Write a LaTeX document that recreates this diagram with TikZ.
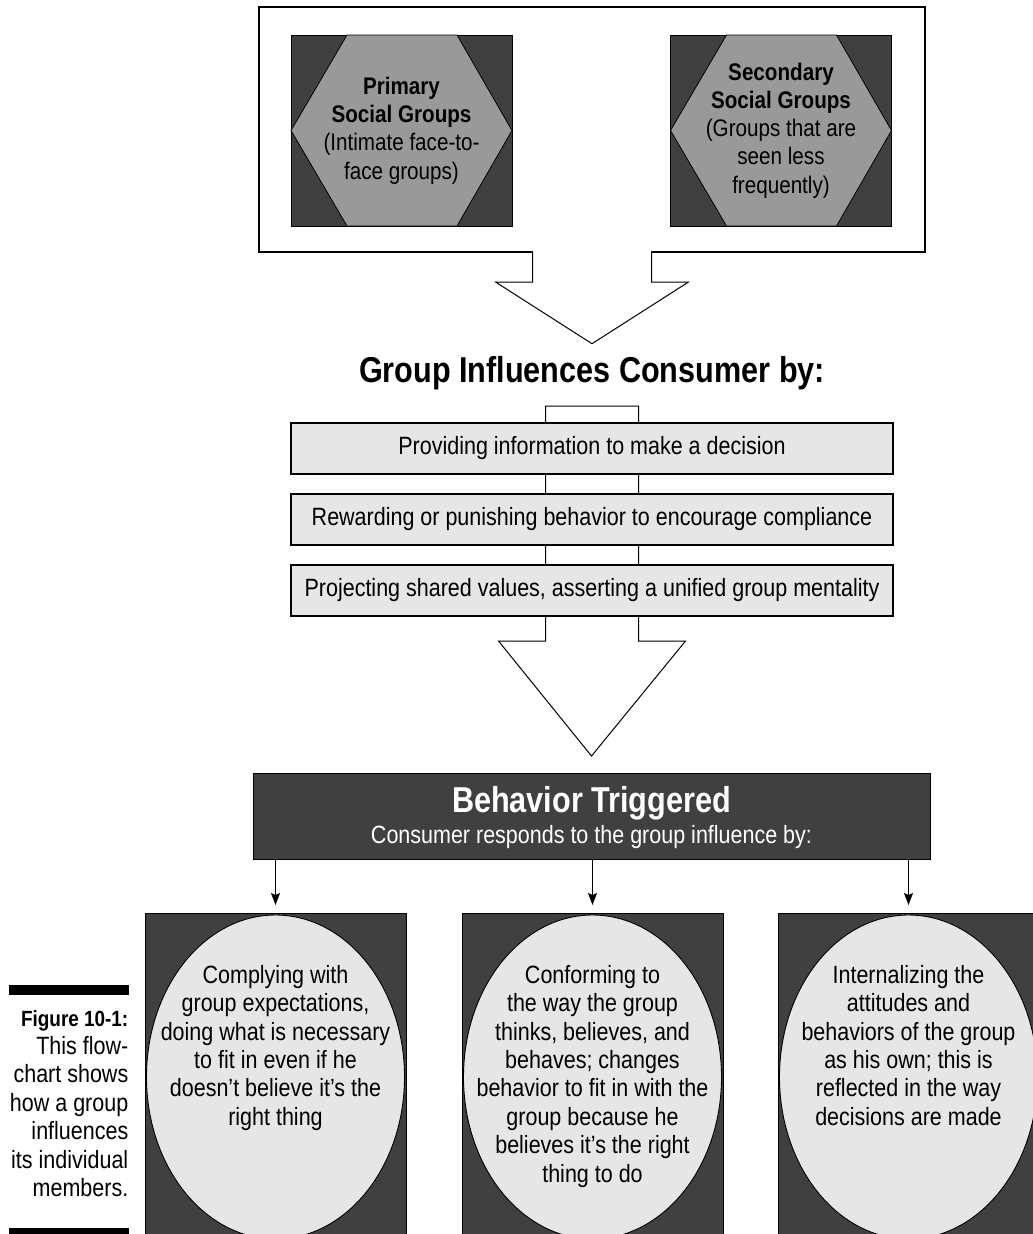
\documentclass[tikz,border=0pt]{standalone}
\usepackage{fontspec}
\setmainfont{Liberation Sans}[FakeStretch=0.86]
\newfontfamily\headfont{Liberation Sans}[FakeStretch=0.85]
\usetikzlibrary{arrows.meta, positioning, shapes.geometric, calc, backgrounds}
\definecolor{BoxDark}{HTML}{404040}
\definecolor{HexGray}{HTML}{999999}
\definecolor{PaleGray}{HTML}{E6E6E6}

\tikzset{
  grpsq/.style={draw=black, line width=0.8pt, fill=BoxDark, minimum width=221pt, minimum height=191pt, inner sep=0pt, outer sep=0pt},
  hexface/.style={draw=black, line width=0.8pt, fill=HexGray},
  bodytxt/.style={align=center, inner sep=0pt, font=\fontsize{25}{28.4}\selectfont},
  hextxt/.style={bodytxt, font=\fontsize{24}{28.2}\selectfont},
  headtxt/.style={inner sep=0pt, font=\headfont\bfseries\fontsize{36}{40}\selectfont},
  infobox/.style={draw=black, line width=1.3pt, fill=PaleGray, minimum width=602pt, minimum height=51pt, inner sep=0pt, outer sep=0pt, font=\fontsize{25}{28}\selectfont},
  respbox/.style={draw=black, line width=1pt, fill=BoxDark, minimum width=261pt, minimum height=330pt, inner sep=0pt, outer sep=0pt},
  respoval/.style={ellipse, draw=black, line width=0.9pt, fill=PaleGray, minimum width=258pt, minimum height=324pt, inner sep=0pt, outer sep=0pt},
  blockarrow/.style={draw=black, line width=1pt, fill=white, line join=miter},
  thinarrow/.style={-{Stealth[length=12pt, width=9pt, inset=2pt]}, line width=1.2pt, shorten >=8pt}
}

\begin{document}
\begin{tikzpicture}[x=1pt, y=-1pt]
    \useasboundingbox (0,0) rectangle (1033,1234);
    \clip (0,0) rectangle (1033,1234);

    % Social groups panel
    \node[draw=black, line width=1.4pt, minimum width=666pt, minimum height=245pt, inner sep=0pt, outer sep=0pt] (grpbox) at (592,129.5) {};
    \node[grpsq] (primsq) at (401.5,130.5) {};
    \node[grpsq] (secsq) at (781,130.5) {};
    \foreach \sq in {primsq, secsq}
        \filldraw[hexface] ($(\sq.north west)+(56,0)$) -- ($(\sq.north east)+(-55,0)$) -- (\sq.east)
            -- ($(\sq.south east)+(-55,0)$) -- ($(\sq.south west)+(56,0)$) -- (\sq.west) -- cycle;
    \node[hextxt] (primtxt) at (primsq) {\textbf{Primary}\\\textbf{Social Groups}\\(Intimate face-to-\\face groups)};
    \node[hextxt] (sectxt) at (secsq) {\textbf{Secondary}\\\textbf{Social Groups}\\(Groups that are\\seen less\\frequently)};

    % Heading
    \node[headtxt, anchor=base] (infl) at (592,382) {Group Influences Consumer by:};

    % Block arrow from the panel down to the heading
    \fill[white] ($(grpbox.south)+(-58.8,-2)$) rectangle ($(grpbox.south)+(58.8,1)$);
    \filldraw[blockarrow] ($(grpbox.south)+(-59.5,-0.7)$) -- ($(grpbox.south)+(-59.5,30)$) -- ++(-37,0)
        -- ($(infl.north)+(0,-12)$) -- ($(grpbox.south)+(96.5,30)$) -- ++(-37,0) -- ($(grpbox.south)+(59.5,-0.7)$);

    % Ways of influence
    \node[infobox] (inf1) at (592,448.5) {Providing information to make a decision};
    \node[infobox, below=20pt of inf1] (inf2) {Rewarding or punishing behavior to encourage compliance};
    \node[infobox, below=20pt of inf2] (inf3) {Projecting shared values, asserting a unified group mentality};

    % Behavior box
    \node[draw=black, line width=1pt, fill=BoxDark, minimum width=677pt, minimum height=86pt, inner sep=0pt, outer sep=0pt] (behav) at (591.5,816) {};
    \node[headtxt, text=white, anchor=base] (behavtitle) at ($(behav.north)+(0,39)$) {Behavior Triggered};
    \node[bodytxt, text=white, anchor=base] (behavsub) at ($(behav.north)+(0,70)$) {Consumer responds to the group influence by:};

    % Block arrow through the list, behind the boxes
    \begin{pgfonlayer}{background}
        \filldraw[blockarrow] ($(inf1.north)+(-46.5,-17)$) -- ($(inf1.north)+(46.5,-17)$) -- ($(inf3.south)+(46.5,25)$)
            -- ++(47,0) -- ($(behav.north)+(0,-17)$) -- ($(inf3.south)+(-93.5,25)$) -- ++(47,0) -- cycle;
    \end{pgfonlayer}

    % Responses
    \node[respbox] (resp1) at (275.5,1078) {};
    \node[respbox, right=56pt of resp1] (resp2) {};
    \node[respbox, right=55pt of resp2] (resp3) {};
    \foreach \i in {1,2,3} {
        \node[respoval] (oval\i) at ($(resp\i.north)+(0,164)$) {};
        \draw[thinarrow] (behav.south -| resp\i.north) -- (resp\i.north);
    }
    \node[bodytxt, anchor=north] (resptxt1) at ($(oval1.north)+(0,50)$) {Complying with\\group expectations,\\doing what is necessary\\to fit in even if he\\doesn’t believe it’s the\\right thing};
    \node[bodytxt, anchor=north] (resptxt2) at ($(oval2.north)+(0,50)$) {Conforming to\\the way the group\\thinks, believes, and\\behaves; changes\\behavior to fit in with the\\group because he\\believes it’s the right\\thing to do};
    \node[bodytxt, anchor=north] (resptxt3) at ($(oval3.north)+(0,50)$) {Internalizing the\\attitudes and\\behaviors of the group\\as his own; this is\\reflected in the way\\decisions are made};

    % Caption
    \fill[black] (9,985) rectangle (129,995);
    \fill[black] (9,1228) rectangle (129,1240);
    \node[bodytxt, align=right, anchor=north east] (figcap) at (128.5,1010) {{\bfseries\fontsize{22}{28.4}\selectfont Figure 10-1:}\\This flow-\\chart shows\\how a group\\influences\\its individual\\members.};
\end{tikzpicture}
\end{document}
